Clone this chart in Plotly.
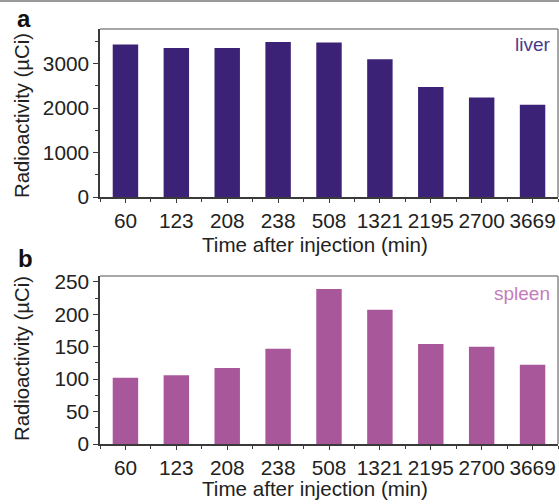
import plotly.graph_objects as go

times = ["60", "123", "208", "238", "508", "1321", "2195", "2700", "3669"]
liver = [3430, 3355, 3355, 3490, 3475, 3100, 2475, 2240, 2075]
spleen = [102, 106, 117, 147, 239, 207, 154, 150, 122]

W, H = 559, 504
FONT = "Liberation Sans, Arial, sans-serif"
LIVER_C = "#3c2277"
SPLEEN_C = "#a8579b"
AX_C = "#3a3a3a"
TICK_SIZE = 20.8

idx = list(range(len(times)))

fig = go.Figure()
fig.add_trace(go.Bar(x=idx, y=liver, marker=dict(color=LIVER_C, line=dict(width=0)),
                     xaxis="x", yaxis="y", width=0.5, showlegend=False))
fig.add_trace(go.Bar(x=idx, y=spleen, marker=dict(color=SPLEEN_C, line=dict(width=0)),
                     xaxis="x2", yaxis="y2", width=0.5, showlegend=False))

xl, xr = 100 / W, 558 / W
dom_a = [1 - 197 / H, 1 - 29 / H]
dom_b = [1 - 444 / H, 1 - 276 / H]

def xaxis(anchor):
    return dict(domain=[xl, xr], anchor=anchor, range=[-0.5, len(times) - 0.5],
                tickmode="array", tickvals=idx, ticktext=times,
                ticks="outside", ticklen=4, tickwidth=1.2, tickcolor=AX_C,
                minor=dict(tick0=0.5, dtick=1, ticks="outside", ticklen=3, tickwidth=1.2, tickcolor=AX_C),
                showline=True, linecolor=AX_C, linewidth=1.5, showgrid=False, zeroline=False,
                tickfont=dict(family=FONT, size=TICK_SIZE, color="#222"), automargin=False, fixedrange=True)

def yaxis(anchor, dom, rng, dt):
    return dict(domain=dom, anchor=anchor, range=rng, dtick=dt, tick0=0,
                ticks="outside", ticklen=5, tickwidth=1.2, tickcolor=AX_C,
                minor=dict(dtick=dt / 2, tick0=0, ticks="outside", ticklen=3, tickwidth=1.2, tickcolor=AX_C),
                showline=True, linecolor=AX_C, linewidth=1.5, showgrid=False, zeroline=False,
                tickfont=dict(family=FONT, size=TICK_SIZE, color="#222"), automargin=False, fixedrange=True)

fig.update_layout(
    width=W, height=H, margin=dict(l=0, r=0, t=0, b=0),
    paper_bgcolor="white", plot_bgcolor="white",
    bargap=0.5,
    xaxis=xaxis("y"), yaxis=yaxis("x", dom_a, [0, 3780], 1000),
    xaxis2=xaxis("y2"), yaxis2=yaxis("x2", dom_b, [0, 259], 50),
    font=dict(family=FONT, color="#222"),
)

# frame top/right lines (grey)
for xa, ya in (("x", "y"), ("x2", "y2")):
    fig.add_shape(type="line", xref=f"{xa} domain", yref=f"{ya} domain", x0=0, x1=1, y0=1, y1=1,
                  line=dict(color="#8a8a8a", width=1.5))
    fig.add_shape(type="line", xref=f"{xa} domain", yref=f"{ya} domain", x0=1, x1=1, y0=0, y1=1,
                  line=dict(color="#8a8a8a", width=1.5))
# top grey border of image
fig.add_shape(type="line", xref="paper", yref="paper", x0=0, x1=1, y0=1 - 1 / H, y1=1 - 1 / H,
              line=dict(color="#9a9a9a", width=2))

ann = []
def txt(x, y, s, size=20.6, color="#222", bold=False, angle=0, xanchor="center"):
    ann.append(dict(x=x / W, y=1 - y / H, xref="paper", yref="paper", text=f"<b>{s}</b>" if bold else s,
                    showarrow=False, xanchor=xanchor, yanchor="middle", textangle=angle,
                    font=dict(family=FONT, size=size, color=color)))

txt(315, 244, "Time after injection (min)")
txt(315, 488, "Time after injection (min)")
txt(22, 116, "Radioactivity (µCi)", size=20.3, angle=-90)
txt(22, 359, "Radioactivity (µCi)", size=20.3, angle=-90)
txt(24, 19, "a", size=24, color="#111", bold=True)
txt(25, 258, "b", size=24, color="#111", bold=True)
txt(553, 44, "liver", size=19, color="#4a3a8c", xanchor="right")
txt(552, 293, "spleen", size=19, color="#c47cba", xanchor="right")
fig.update_layout(annotations=ann)

fig.write_html("out.html")
